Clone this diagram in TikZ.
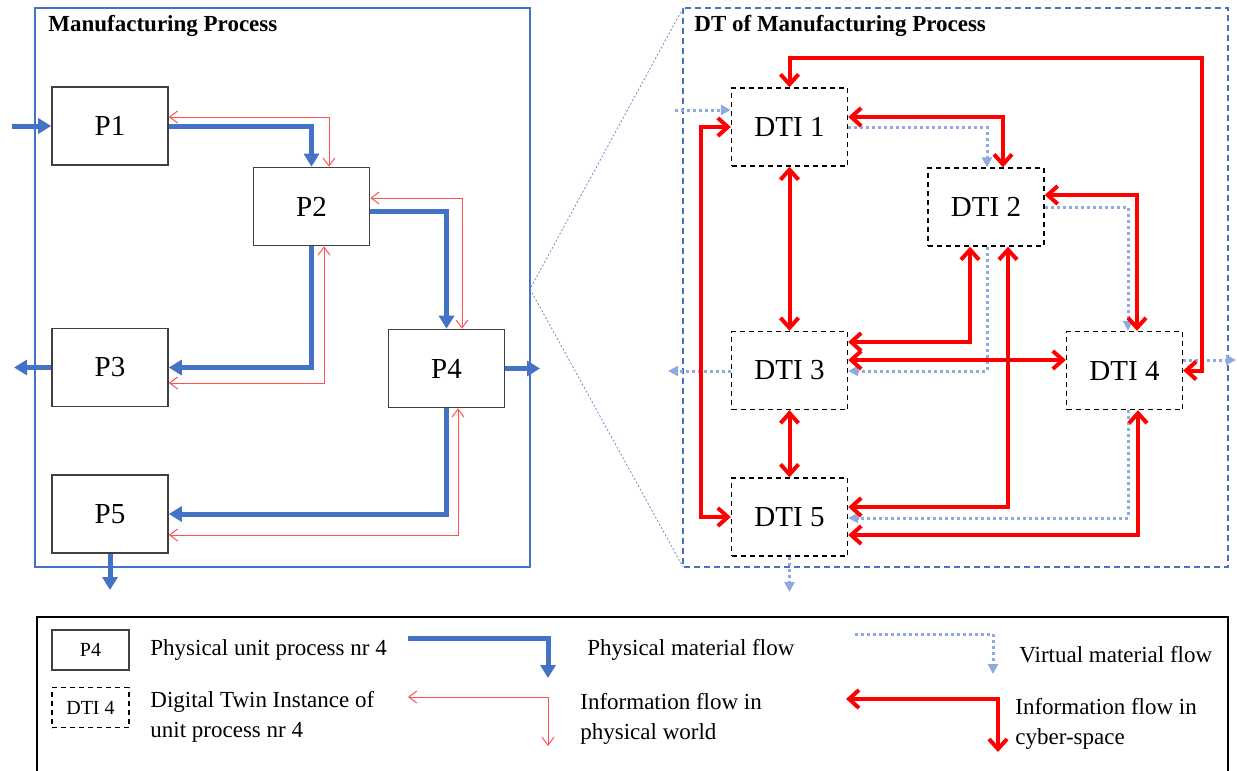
\documentclass[tikz,border=0pt]{standalone}
\usepackage{fontspec}
\setmainfont{Liberation Serif}
\usepackage{tikz}
\usetikzlibrary{arrows.meta}
\definecolor{pblue}{HTML}{4472C4}
\definecolor{vblue}{HTML}{8FAADC}
\definecolor{pred}{HTML}{FF5050}

\begin{document}
\begin{tikzpicture}[x=0.5pt, y=-0.5pt,
  pbox/.style={draw=black!75, line width=0.8pt, minimum width=58pt, minimum height=39pt, inner sep=0pt, font=\fontsize{14.5}{16}\selectfont},
  dbox/.style={draw=black, line width=0.7pt, dash pattern=on 2.5pt off 2pt, minimum width=58pt, minimum height=39pt, inner sep=0pt, font=\fontsize{14.5}{16}\selectfont},
  lbox/.style={minimum width=38.5pt, minimum height=20pt, inner sep=0pt, font=\fontsize{10}{12}\selectfont},
  title/.style={anchor=west, inner sep=0pt, font=\bfseries\fontsize{11.5}{13}\selectfont},
  ltext/.style={anchor=west, align=left, inner sep=0pt, font=\fontsize{11.5}{15}\selectfont},
  pflow/.style={draw=pblue, line width=2.5pt, -{Triangle[width=7.5pt,length=6.5pt]}},
  pinfo/.style={draw=pred, line width=0.5pt, {Straight Barb[width=6pt,length=4pt]}-{Straight Barb[width=6pt,length=4pt]}},
  vflow/.style={draw=vblue, line width=1.5pt, dash pattern=on 1.5pt off 1.5pt, -{Triangle[width=5pt,length=5pt]}},
  cinfo/.style={draw=red, line width=2pt, {Straight Barb[width=9pt,length=5pt]}-{Straight Barb[width=9pt,length=5pt]}}]
  \useasboundingbox (0,0) rectangle (1237,771);

  \draw[pblue, line width=0.75pt] (35,8) rectangle (530,567);
  \draw[pblue, line width=0.75pt, dash pattern=on 3pt off 2pt] (683,8) rectangle (1228,567);
  \coordinate (zoom) at (530,289);
  \draw[pblue!80, line width=0.4pt, dash pattern=on 1pt off 1pt] (683,8) -- (zoom) -- (683,567);
  \node (mp) [title] at (48,26) {Manufacturing Process};
  \node (dtmp) [title] at (694,26) {DT of Manufacturing Process};

  \node (p1) [pbox] at (110,126) {P1};
  \node (p2) [pbox] at (311.5,206.5) {P2};
  \node (p3) [pbox] at (110,367.5) {P3};
  \node (p4) [pbox] at (446.5,368.5) {P4};
  \node (p5) [pbox] at (110,514) {P5};

  \coordinate (pin) at (12,126);
  \coordinate (p3out) at (14,367.5);
  \coordinate (p4out) at (540,368.5);
  \coordinate (p5out) at (110,590);
  \draw[pflow] (pin) -- (p1.west);
  \draw[pflow] (p1.east) -| (p2.north);
  \draw[pflow] (p2.east |- 0,211) -| (p4.north);
  \draw[pflow] (p2.south) |- (p3.east);
  \draw[pflow] (p4.south) |- (p5.east);
  \draw[pflow] (p3.west) -- (p3out);
  \draw[pflow] (p4.east) -- (p4out);
  \draw[pflow] (p5.south) -- (p5out);

  \draw[pinfo] (p1.east |- 0,117) -| (p2.north -| 329,0);
  \draw[pinfo] (p2.east |- 0,198) -| (p4.north -| 462,0);
  \draw[pinfo] (p2.south -| 324,0) |- (p3.east |- 0,383);
  \draw[pinfo] (p4.south -| 458,0) |- (p5.east |- 0,535);

  \node (dti1) [dbox] at (789.5,127) {DTI 1};
  \node (dti2) [dbox] at (986,207) {DTI 2};
  \node (dti3) [dbox] at (789.5,370.5) {DTI 3};
  \node (dti4) [dbox] at (1124.5,370.5) {DTI 4};
  \node (dti5) [dbox] at (789.5,517) {DTI 5};

  \coordinate (vin) at (675,110);
  \coordinate (v3out) at (668,371);
  \coordinate (v4out) at (1236,360);
  \coordinate (v5out) at (789.5,592);
  \draw[vflow] (vin) -- (dti1.west |- vin);
  \draw[vflow] (dti1.east |- 0,127) -| (dti2.north -| 987,0);
  \draw[vflow] (dti2.east |- 0,207) -| (dti4.north -| 1128,0);
  \draw[vflow] (dti2.south -| 987,0) |- (dti3.east |- 0,371);
  \draw[vflow] (dti4.south -| 1128,0) |- (dti5.east |- 0,518);
  \draw[vflow] (dti3.west |- v3out) -- (v3out);
  \draw[vflow] (dti4.east |- v4out) -- (v4out);
  \draw[vflow] (dti5.south) -- (v5out);

  \draw[cinfo] (dti1.north) |- (1202,58) |- (dti4.east);
  \draw[cinfo] (dti1.west) -- ++(-30,0) |- (dti5.west);
  \draw[cinfo] (dti1.east |- 0,117) -| (dti2.north -| 1003,0);
  \draw[cinfo] (dti1.south) -- (dti3.north);
  \draw[cinfo] (dti2.east |- 0,195) -| (dti4.north -| 1137,0);
  \draw[cinfo] (dti2.south -| 970,0) |- (dti3.east |- 0,342);
  \draw[cinfo] (dti2.south -| 1008,0) |- (dti5.east |- 0,507);
  \draw[cinfo] (dti3.east |- 0,360) -- (dti4.west |- 0,360);
  \draw[cinfo] (dti3.south) -- (dti5.north);
  \draw[cinfo] (dti4.south -| 1138,0) |- (dti5.east |- 0,535);

  \draw[black, line width=0.6pt] (37,617) rectangle (1228,776);
  \node (lp4) [lbox, draw=black!75, line width=0.7pt] at (90.5,650) {P4};
  \node (ldti4) [lbox, draw=black, line width=0.6pt, dash pattern=on 2.5pt off 2pt] at (90.5,707.5) {DTI 4};
  \node (lt1) [ltext] at (150,650) {Physical unit process nr 4};
  \node (lt2) [ltext] at (150,717) {Digital Twin Instance of\\unit process nr 4};
  \node (lt3) [ltext] at (587,650) {Physical material flow};
  \node (lt4) [ltext] at (580,719) {Information flow in\\physical world};
  \node (lt5) [ltext] at (1019,655) {Virtual material flow};
  \node (lt6) [ltext] at (1015,724) {Information flow in\\cyber-space};

  \coordinate (lb1) at (408,638);
  \coordinate (lb2) at (548,678);
  \coordinate (lr1) at (408,697);
  \coordinate (lr2) at (548,746);
  \coordinate (lv1) at (855,634);
  \coordinate (lv2) at (993,674);
  \coordinate (lc1) at (846,699);
  \coordinate (lc2) at (998,752);
  \draw[pflow] (lb1) -| (lb2);
  \draw[pinfo] (lr1) -| (lr2);
  \draw[vflow] (lv1) -| (lv2);
  \draw[cinfo] (lc1) -| (lc2);
\end{tikzpicture}
\end{document}
